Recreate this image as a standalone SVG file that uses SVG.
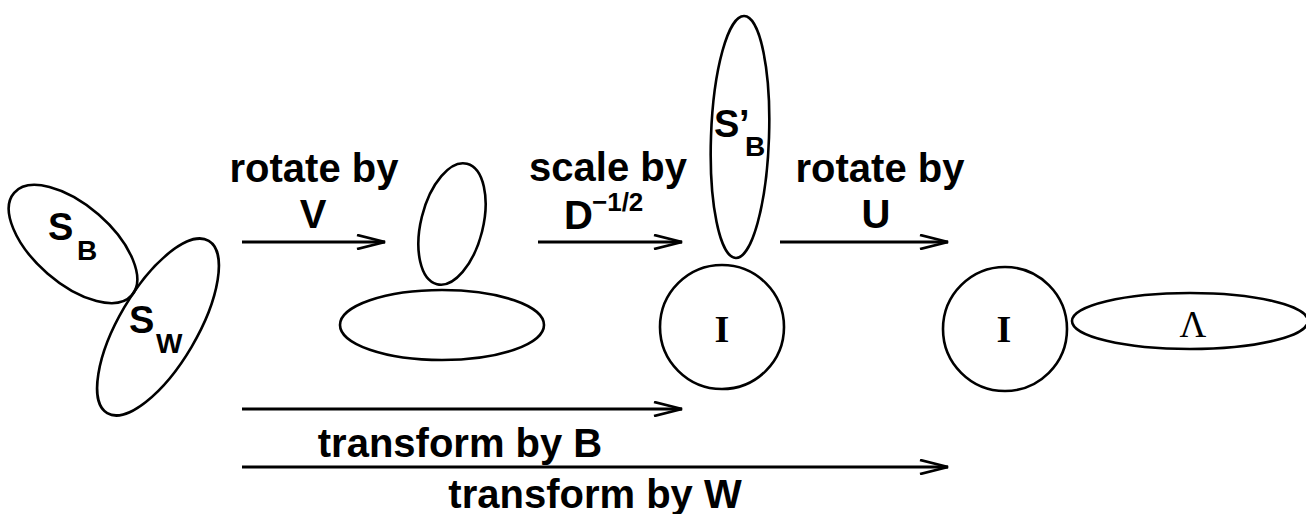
<svg xmlns="http://www.w3.org/2000/svg" width="1306" height="514" viewBox="0 0 1306 514">
<style>
.sh{fill:none;stroke:#000;stroke-width:2.6}
.ln{fill:none;stroke:#000;stroke-width:2.8}
.t{font-family:"Liberation Sans",Arial,sans-serif;font-weight:bold;font-size:40px;fill:#000}
.s{font-family:"Liberation Sans",Arial,sans-serif;font-weight:bold;font-size:38px;fill:#000}
.sub{font-size:28px}
.sup{font-size:26px}
.tm{font-family:"Liberation Serif","Times New Roman",serif;fill:#000}
</style>
<defs>
<marker id="ah" viewBox="0 0 30 16" refX="29" refY="8" markerWidth="30" markerHeight="16" markerUnits="userSpaceOnUse" orient="auto">
<path d="M1,1 L29,8 L1,15" fill="none" stroke="#000" stroke-width="2.8"/>
</marker>
</defs>
<rect width="1306" height="514" fill="#fff"/>
<g id="sb">
<ellipse class="sh" cx="73" cy="244" rx="78" ry="39" transform="rotate(41 73 244)"/>
<text class="s" x="48" y="240">S<tspan class="sub" x="77" y="260">B</tspan></text>
</g>
<g id="sw">
<ellipse class="sh" cx="158" cy="327" rx="100" ry="39" transform="rotate(-59.5 158 327)"/>
<text class="s" x="129" y="333">S<tspan class="sub" x="156" y="353">W</tspan></text>
</g>
<g id="mid-upper">
<ellipse class="sh" cx="452" cy="224" rx="31" ry="62" transform="rotate(14 452 224)"/>
</g>
<g id="mid-lower">
<ellipse class="sh" cx="442" cy="325" rx="102" ry="35"/>
</g>
<g id="sbp">
<ellipse class="sh" cx="740" cy="137" rx="29" ry="121" transform="rotate(2 740 137)"/>
<text class="s" x="714" y="137">S<tspan x="739">’</tspan><tspan class="sub" x="745" y="156">B</tspan></text>
</g>
<g id="i1">
<circle class="sh" cx="722" cy="327" r="62"/>
<text class="tm" x="722" y="342" font-size="38" font-weight="bold" text-anchor="middle">I</text>
</g>
<g id="i2">
<circle class="sh" cx="1005" cy="329" r="62"/>
<text class="tm" x="1004" y="342" font-size="38" font-weight="bold" text-anchor="middle">I</text>
</g>
<g id="lambda">
<ellipse class="sh" cx="1190" cy="321" rx="118" ry="28"/>
<text class="tm" x="1193" y="337" font-size="37" text-anchor="middle">Λ</text>
</g>
<g id="connectors">
<line class="ln" x1="242" y1="242" x2="385" y2="242" marker-end="url(#ah)"/>
<line class="ln" x1="538" y1="242" x2="682" y2="242" marker-end="url(#ah)"/>
<line class="ln" x1="780" y1="242" x2="948" y2="242" marker-end="url(#ah)"/>
<line class="ln" x1="242" y1="409" x2="682" y2="409" marker-end="url(#ah)"/>
<line class="ln" x1="242" y1="467" x2="948" y2="467" marker-end="url(#ah)"/>
</g>
<g id="labels">
<text class="t" x="314" y="182" text-anchor="middle">rotate by</text>
<text class="t" x="313" y="228" text-anchor="middle">V</text>
<text class="t" x="608" y="181" text-anchor="middle">scale by</text>
<text class="t" x="564" y="229">D<tspan class="sup" x="592" y="211">−1/2</tspan></text>
<text class="t" x="880" y="182" text-anchor="middle">rotate by</text>
<text class="t" x="876" y="228" text-anchor="middle">U</text>
<text class="t" x="460" y="457" text-anchor="middle">transform by B</text>
<text class="t" x="595" y="508" text-anchor="middle">transform by W</text>
</g>
</svg>
